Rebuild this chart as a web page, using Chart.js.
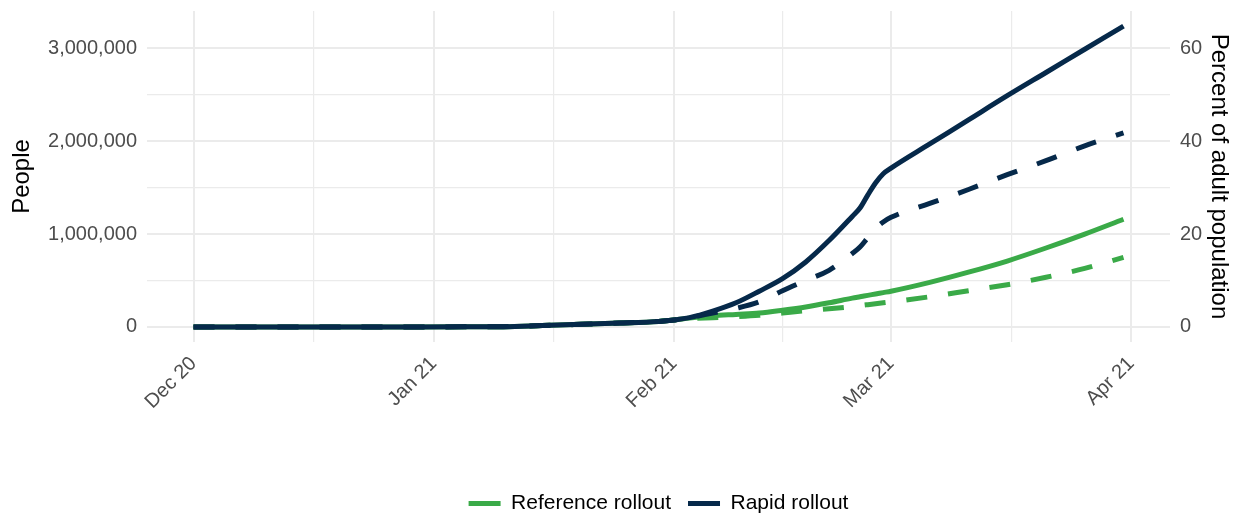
<!DOCTYPE html>
<html>
<head>
<meta charset="utf-8">
<script src="https://cdn.jsdelivr.net/npm/chart.js@4"></script>
<style>
  html, body { margin: 0; padding: 0; background: #fff; }
  #wrap { width: 1241px; height: 514px; }
</style>
</head>
<body>
<div id="wrap"><canvas id="chart" width="1241" height="514"></canvas></div>
<script>
// days since 1 Dec 2020
const dayIndex = [0, 7, 14, 21, 28, 35, 40, 45, 50, 55, 60, 62, 64, 67, 70, 73, 76, 79, 82, 85, 86, 87, 88, 89, 90, 95, 100, 105, 110, 115, 120];

// people vaccinated
const rapidSolid = [0, 0, 0, 0, 0, 1000, 3000, 15000, 28000, 42000, 60000, 75000, 100000, 170000, 260000, 385000, 520000, 700000, 930000, 1190000, 1280000, 1420000, 1550000, 1650000, 1710000, 1970000, 2230000, 2490000, 2740000, 2990000, 3240000];
const rapidDashed = [0, 0, 0, 0, 0, 1000, 3000, 15000, 28000, 42000, 60000, 75000, 100000, 150000, 200000, 270000, 390000, 500000, 610000, 790000, 860000, 960000, 1060000, 1130000, 1180000, 1330000, 1480000, 1640000, 1790000, 1950000, 2090000];
const refSolid = [0, 0, 0, 0, 0, 1000, 3000, 15000, 28000, 42000, 60000, 75000, 95000, 120000, 135000, 150000, 180000, 215000, 260000, 310000, 325000, 340000, 355000, 370000, 385000, 480000, 590000, 710000, 850000, 1000000, 1160000];
const refDashed = [0, 0, 0, 0, 0, 1000, 3000, 15000, 28000, 42000, 60000, 75000, 90000, 100000, 110000, 125000, 150000, 175000, 195000, 220000, 230000, 240000, 250000, 260000, 270000, 325000, 390000, 455000, 535000, 630000, 750000];

const monthDays = [0, 31, 62, 90, 121];
const monthLabels = ['Dec 20', 'Jan 21', 'Feb 21', 'Mar 21', 'Apr 21'];
const minorDays = [15.5, 46.5, 76, 105.5];

const peopleTicks = [0, 1000000, 2000000, 3000000];
const peopleMinor = [500000, 1500000, 2500000];
const pctTicks = [0, 20, 40, 60];
const adultPop = 5000000;

const NAVY = '#06294A';
const GREEN = '#3AAA48';
const GRID = '#EBEBEB';
const FONT = "'Liberation Sans', Arial, sans-serif";

function pts(vals) {
    return dayIndex.map((d, i) => ({ x: d, y: vals[i] }));
}

function line(label, vals, color, dashed) {
    return {
        label: label,
        data: pts(vals),
        borderColor: color,
        backgroundColor: color,
        borderWidth: 5,
        borderDash: dashed ? [21, 21] : [],
        borderCapStyle: 'butt',
        pointRadius: 0,
        cubicInterpolationMode: 'monotone',
        fill: false,
        dashed: dashed
    };
}

const yMin = -162000, yMax = 3402000;

// no extra room for half tick labels on the vertical axes
function noPad(s) { s.paddingTop = 0; s.paddingBottom = 0; }

new Chart(document.getElementById('chart').getContext('2d'), {
    type: 'line',
    data: {
        datasets: [
            line('Rapid rollout', rapidSolid, NAVY, false),
            line('Rapid rollout dashed', rapidDashed, NAVY, true),
            line('Reference rollout', refSolid, GREEN, false),
            line('Reference rollout dashed', refDashed, GREEN, true)
        ]
    },
    options: {
        responsive: false,
        animation: false,
        layout: { padding: { top: 11, bottom: -10, left: 0, right: 0 } },
        plugins: {
            tooltip: { enabled: false },
            legend: {
                position: 'bottom',
                fullSize: false,
                labels: {
                    font: { family: FONT, size: 21 },
                    color: '#000',
                    boxWidth: 32,
                    boxHeight: 5,
                    padding: 17,
                    filter: (item, data) => !data.datasets[item.datasetIndex].dashed,
                    sort: (a, b) => b.datasetIndex - a.datasetIndex,
                    generateLabels: (chart) => {
                        const items = Chart.defaults.plugins.legend.labels.generateLabels(chart);
                        items.forEach(it => { it.lineWidth = 0; it.lineDash = []; });
                        return items;
                    }
                }
            }
        },
        scales: {
            x: {
                type: 'linear',
                min: -6,
                max: 126,
                afterBuildTicks: (s) => {
                    s.ticks = monthDays.concat(minorDays).sort((a, b) => a - b).map(v => ({ value: v }));
                },
                afterFit: (s) => { s.height = 134; },
                ticks: {
                    autoSkip: false,
                    minRotation: 45,
                    maxRotation: 45,
                    padding: 10,
                    color: '#4D4D4D',
                    font: { family: FONT, size: 20 },
                    callback: (v) => {
                        const i = monthDays.indexOf(v);
                        return i >= 0 ? monthLabels[i] : '';
                    }
                },
                grid: {
                    color: GRID,
                    drawTicks: false,
                    lineWidth: (c) => (c.tick && monthDays.includes(c.tick.value)) ? 2 : 1.2
                },
                border: { display: false }
            },
            y: {
                type: 'linear',
                position: 'left',
                min: yMin,
                max: yMax,
                afterBuildTicks: (s) => {
                    s.ticks = peopleTicks.concat(peopleMinor).sort((a, b) => a - b).map(v => ({ value: v }));
                },
                afterFit: (s) => { s.width = 147; noPad(s); },
                ticks: {
                    padding: 10,
                    color: '#4D4D4D',
                    font: { family: FONT, size: 20 },
                    callback: (v) => peopleTicks.includes(v) ? v.toLocaleString('en-US') : ''
                },
                title: {
                    display: true,
                    text: 'People',
                    color: '#000',
                    font: { family: FONT, size: 24 },
                    padding: { top: 8, bottom: 0 }
                },
                grid: {
                    color: GRID,
                    drawTicks: false,
                    lineWidth: (c) => (c.tick && peopleTicks.includes(c.tick.value)) ? 2 : 1.2
                },
                border: { display: false }
            },
            y2: {
                type: 'linear',
                position: 'right',
                min: yMin / adultPop * 100,
                max: yMax / adultPop * 100,
                afterBuildTicks: (s) => {
                    s.ticks = pctTicks.map(v => ({ value: v }));
                },
                afterFit: (s) => { s.width = 71; noPad(s); },
                ticks: {
                    padding: 10,
                    color: '#4D4D4D',
                    font: { family: FONT, size: 20 },
                    callback: (v) => String(v)
                },
                title: {
                    display: true,
                    text: 'Percent of adult population',
                    color: '#000',
                    font: { family: FONT, size: 24 },
                    padding: { top: 8, bottom: 0 }
                },
                grid: { display: false, drawTicks: false },
                border: { display: false }
            }
        }
    }
});
</script>
</body>
</html>
